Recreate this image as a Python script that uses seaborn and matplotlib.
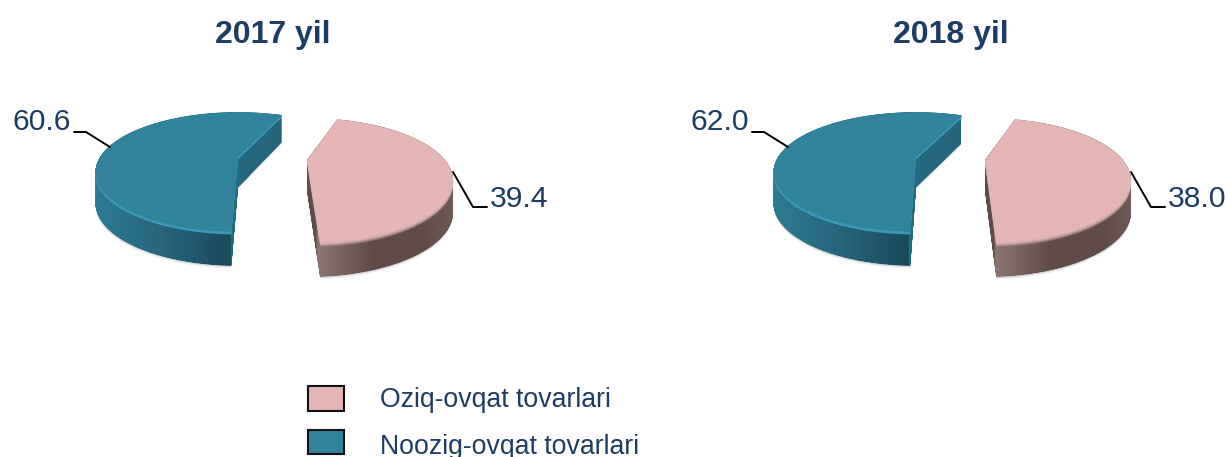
import numpy as np
import matplotlib
matplotlib.use("Agg")
import matplotlib.pyplot as plt
import seaborn as sns
from matplotlib.colors import LinearSegmentedColormap
from matplotlib.patches import Patch
from matplotlib.path import Path
from matplotlib.transforms import Transform

years = ["2017 yil", "2018 yil"]
categories = ["Oziq-ovqat tovarlari", "Noozig-ovqat tovarlari"]
food_share = [39.4, 38.0]
nonfood_share = [60.6, 62.0]
value_labels = [["39.4", "60.6"], ["38.0", "62.0"]]

sns.set_theme(style="white")
plt.rcParams["font.family"] = ["Liberation Sans", "DejaVu Sans"]

PINK, TEAL = "#e3b5b4", "#31839c"
INK = "#1d3c63"
DEPTH = 30.3


class Tilt(Transform):
    """Flat unit pie -> tilted perspective view, in pixel-like data units."""
    input_dims = output_dims = 2
    is_separable = False
    has_inverse = False

    def __init__(self, ax_, ay, k, rot, g, b, dz=0.0, a=138.0):
        super().__init__()
        self.p = (ax_, ay, k, np.radians(rot), dz, a, b, g)

    def transform_non_affine(self, v):
        ax_, ay, k, rot, dz, a, b, g = self.p
        v = np.asarray(v, float)
        x, y = v[:, 0], v[:, 1]
        r = np.hypot(x, y)
        n = np.hypot(x, g * y)
        n = np.where(n == 0, 1, n)
        wx, wy = x * r / n, g * y * r / n
        xr = wx * np.cos(rot) - wy * np.sin(rot)
        yr = wx * np.sin(rot) + wy * np.cos(rot)
        den = 1 + k * yr
        return np.column_stack([ax_ + a * xr / den,
                                ay - b * yr / den + dz * (1 - 0.12 * yr)])

    def transform_path_non_affine(self, path):
        # flatten the arc first so the warp keeps the outline smooth
        poly = (path.vertices * 1000.0)
        fine = Path(poly, path.codes).to_polygons(closed_only=True)[0] / 1000.0
        return Path(self.transform_non_affine(fine), closed=True)


fig = plt.figure(figsize=(12.27, 4.57), dpi=100)
ax = fig.add_axes([0, 0, 1, 1])

# per-slice view: apex x, apex y, perspective, vertical radius
VIEW = {0: (307, 160, 0.328, 55.7), 1: (238, 157, 0.25, 56.0)}
# per-year, per-slice view: rotation, warp
TURN = [{0: (-2.6, 1.95), 1: (-8.5, 1.9)}, {0: (-4.0, 2.3), 1: (-10.0, 2.0)}]
LAYERS = {
    0: [(4.0, "#8f7473"), (3.0, "#b09090"), (2.0, "#cba8a7"), (1.0, "#dab2b1"), (0.0, PINK)],
    1: [(2.5, "#3f9abb"), (1.2, "#3a94b3"), (0.0, TEAL)],
}
SIDE = {
    0: (307, 453, [(0, "#5f4c49"), (0.06, "#5f4c49"), (0.07, "#8c7573"), (0.45, "#5f4c49"),
                   (0.8, "#5f4c49"), (1, "#6e5a57")]),
    1: (95, 283, [(0, "#2d7c95"), (0.35, "#27667c"), (0.72, "#19495b"), (0.725, "#266a80"),
                  (1, "#25657a")]),
}
CENTER_ANGLE = [-7.0, -5.5]


def tilt(n, i, dz):
    vx, vy, k, b = VIEW[i]
    rot, g = TURN[n][i]
    return Tilt(vx + 678 * n, vy, k, rot, g, b, dz)


def layer(values, start, n, i, dz, color, alpha=1.0):
    wedges, _ = ax.pie(values, startangle=start, colors=["none", "none"], radius=1,
                       wedgeprops=dict(linewidth=0))
    for j, w in enumerate(wedges):
        if j == i:
            w.set_facecolor(color)
            w.set_alpha(alpha)
            w.set_transform(tilt(n, i, dz) + ax.transData)
        else:
            w.remove()
    return wedges[i]


for n, (food, nonfood) in enumerate(zip(food_share, nonfood_share)):
    dx = 678 * n
    values = [food, nonfood]
    start = CENTER_ANGLE[n] - 0.5 * food / 100 * 360
    for i in (1, 0):
        # soft ground shadow
        layer(values, start, n, i, DEPTH + 2.5, "#808080", 0.12)
        layer(values, start, n, i, DEPTH + 1.2, "#808080", 0.25)
        # extruded side: gradient clipped to the swept slice outline
        wedge = layer(values, start, n, i, 0, "#ffffff", 0)
        swept = [tilt(n, i, z).transform_path(wedge.get_path())
                 for z in np.arange(0, DEPTH + 0.5, 0.5)]
        clip = Path.make_compound_path(*swept)
        x0, x1, stops = SIDE[i]
        cmap = LinearSegmentedColormap.from_list(f"side{i}", stops, N=512)
        im = ax.imshow(np.linspace(0, 1, 512)[None, :], cmap=cmap, aspect="auto",
                       extent=(x0 + dx, x1 + dx, 300, 100), interpolation="bilinear", zorder=1.2)
        im.set_clip_path(clip, ax.transData)
        for dz, col in LAYERS[i]:
            w = layer(values, start, n, i, dz, col)
            w.set_zorder(1.5)

    ax.text(272.5 + dx, 34.5, years[n], ha="center", va="center", fontsize=23,
            fontweight="bold", color=INK)
    ax.plot(np.array([74, 86, 110]) + dx, [132, 132, 147], color="black", lw=1.4, zorder=3)
    ax.plot(np.array([453, 473, 487]) + dx, [172, 207, 207], color="black", lw=1.4, zorder=3)
    ax.text(70.5 + dx, 122.5, value_labels[n][1], ha="right", va="center", fontsize=21.7, color=INK)
    ax.text(490 + dx, 199, value_labels[n][0], ha="left", va="center", fontsize=21.7, color=INK)

ax.set_aspect("auto")
ax.set_xlim(0, 1227)
ax.set_ylim(457, 0)
ax.axis("off")

handles = [Patch(facecolor=PINK, edgecolor="#111111", linewidth=1.5),
           Patch(facecolor=TEAL, edgecolor="#111111", linewidth=1.5)]
leg = ax.legend(handles, categories, loc="upper left", bbox_to_anchor=(308, 386),
                bbox_transform=ax.transData, frameon=False, fontsize=19.2,
                handlelength=1.34, handleheight=1.04, handletextpad=1.36,
                labelspacing=0.62, borderpad=0, borderaxespad=0, labelcolor=INK)
leg.get_texts()[1].set_y(-2.2)

fig.savefig("out.png", dpi=100)
